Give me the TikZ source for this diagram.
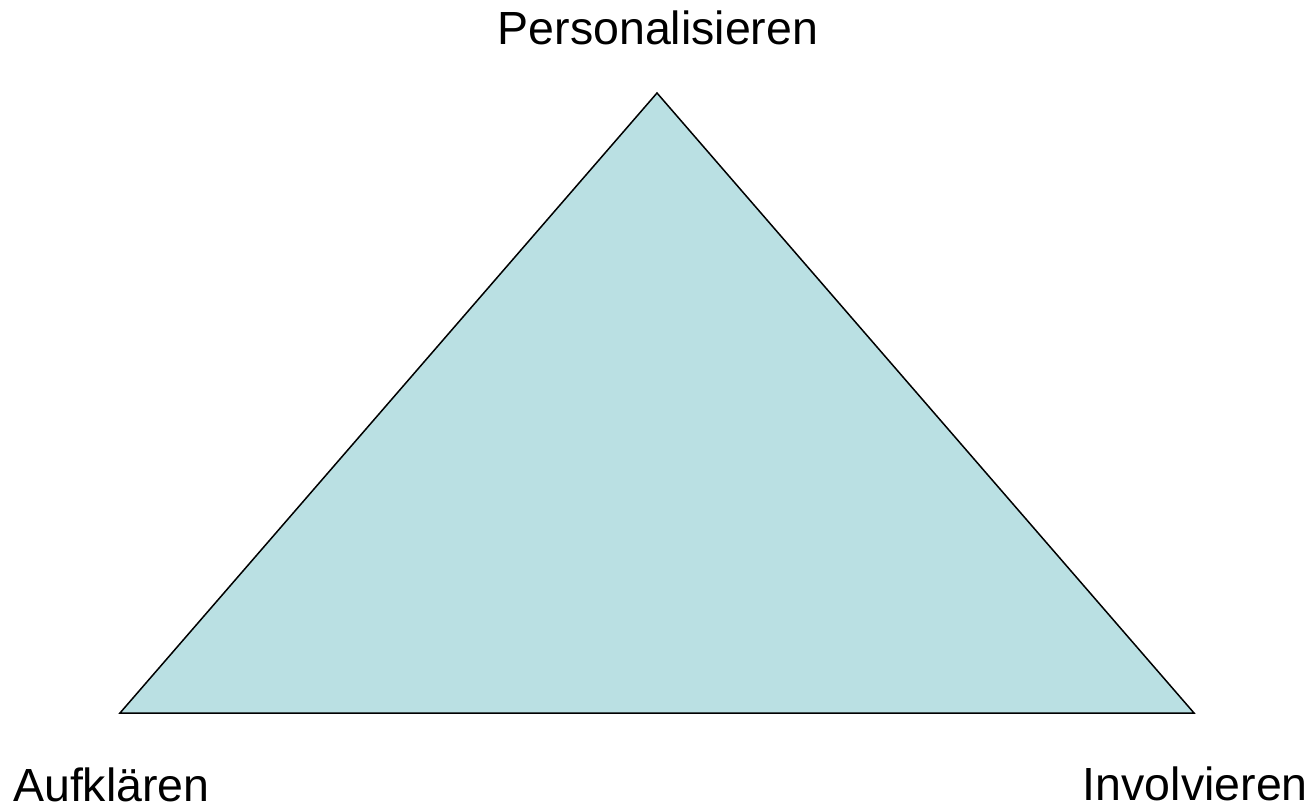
\documentclass[tikz,border=0pt]{standalone}
\usepackage{fontspec}
\setmainfont{Liberation Sans}
\definecolor{trifill}{RGB}{186,224,227}
\begin{document}
\begin{tikzpicture}[x=1pt,y=-1pt,
  lbl/.style={inner sep=0pt,font=\fontsize{46.5}{50}\selectfont},
  tri/.style={draw=black,line width=1.5pt,fill=trifill,line join=miter}]
\useasboundingbox (0,0) rectangle (1314,805);
\coordinate (top) at (657,93);
\coordinate (bl) at (120,713);
\coordinate (br) at (1194,713);
\draw[tri] (top) -- (bl) -- (br) -- cycle;
\node[lbl,anchor=base] (p) at (658,44.5) {Personalisieren};
\node[lbl,anchor=base west] (a) at (13,801.5) {Aufklären};
\node[lbl,anchor=base east] (i) at (1308,800) {Involvieren};
\end{tikzpicture}
\end{document}
